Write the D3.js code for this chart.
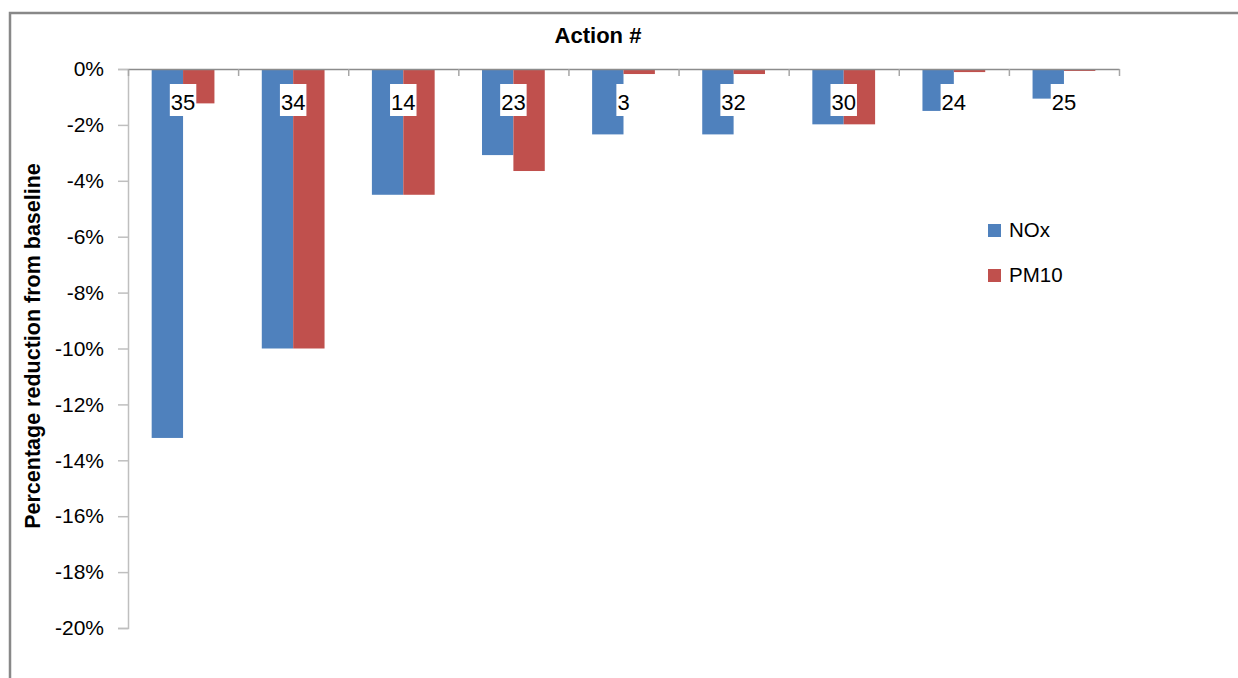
<!DOCTYPE html>
<html>
<head>
<meta charset="utf-8">
<script src="https://cdn.jsdelivr.net/npm/d3@7"></script>
<style>
  body { margin: 0; background: white; }
  text { font-family: "Liberation Sans", Arial, sans-serif; fill: #000; }
</style>
</head>
<body>
<div id="graf"></div>
<script>
// Datos
const acciones = ["35", "34", "14", "23", "3", "32", "30", "24", "25"]
const nox = [-13.2, -10.0, -4.5, -3.08, -2.34, -2.34, -1.98, -1.5, -1.06]
const pm10 = [-1.23, -10.0, -4.5, -3.65, -0.18, -0.18, -1.98, -0.11, -0.07]
const series = ["NOx", "PM10"]
const yTicks = [0, -2, -4, -6, -8, -10, -12, -14, -16, -18, -20]

const colores = { NOx: "#4F81BD", PM10: "#C0504D" }

const draw = () => {
  const anchoTotal = 1238
  const altoTotal = 678

  const margins = { top: 69, left: 128, right: 119, bottom: 50 }

  const svg = d3.select("#graf")
    .append("svg")
    .attr("width", anchoTotal)
    .attr("height", altoTotal)

  // Marco
  svg.append("rect")
    .attr("x", 10)
    .attr("y", 13)
    .attr("width", 1400)
    .attr("height", 1000)
    .attr("fill", "white")
    .attr("stroke", "#888")
    .attr("stroke-width", 2.5)

  // Escaladores
  const y = d3.scaleLinear()
    .domain([-20, 0])
    .range([628, margins.top])

  const x = d3.scaleBand()
    .domain(acciones)
    .range([margins.left, anchoTotal - margins.right])
    .paddingInner(0.43)
    .paddingOuter(0.215)

  const xSub = d3.scaleBand()
    .domain(series)
    .range([0, x.bandwidth()])

  const xTicks = d3.scaleLinear()
    .domain([0, acciones.length])
    .range([margins.left, anchoTotal - margins.right])

  // Eje Y
  const yAxis = svg.append("g")
    .attr("transform", `translate(${margins.left}, 0)`)
    .call(d3.axisLeft(y)
      .tickValues(yTicks)
      .tickSize(10)
      .tickPadding(14)
      .tickFormat(d => d + "%"))

  yAxis.select(".domain").attr("stroke", "#bfbfbf").attr("stroke-width", 1.5)
  yAxis.selectAll(".tick line").attr("stroke", "#bfbfbf").attr("stroke-width", 1.5)
  yAxis.selectAll(".tick text")
    .attr("font-size", 21)
    .attr("font-family", "Liberation Sans, Arial, sans-serif")
    .attr("fill", "#000")

  // Barras
  const filas = acciones.map((a, i) => ({ accion: a, NOx: nox[i], PM10: pm10[i] }))

  const grupos = svg.append("g")
    .selectAll("g")
    .data(filas)
    .join("g")
    .attr("transform", d => `translate(${x(d.accion)}, 0)`)

  grupos.selectAll("rect")
    .data(d => series.map(s => ({ serie: s, valor: d[s] })))
    .join("rect")
    .attr("x", d => xSub(d.serie))
    .attr("width", xSub.bandwidth())
    .attr("y", y(0))
    .attr("height", d => y(d.valor) - y(0))
    .attr("fill", d => colores[d.serie])

  // Eje X (arriba, en el cero)
  const xAxis = svg.append("g")
    .attr("transform", `translate(0, ${y(0)})`)
    .call(d3.axisBottom(xTicks)
      .ticks(acciones.length)
      .tickSize(7)
      .tickSizeOuter(0)
      .tickFormat(""))

  xAxis.select(".domain").attr("stroke", "#8c8c8c").attr("stroke-width", 1.5)
  xAxis.selectAll(".tick line").attr("stroke", "#a6a6a6").attr("stroke-width", 1.5)

  // Etiquetas de categoría con fondo blanco
  const etiquetas = svg.append("g")
    .selectAll("g")
    .data(acciones)
    .join("g")

  etiquetas.append("rect").attr("fill", "white")

  etiquetas.append("text")
    .attr("x", d => x(d) + x.bandwidth() / 2)
    .attr("y", 110)
    .attr("text-anchor", "middle")
    .attr("font-size", 22)
    .text(d => d)

  etiquetas.each(function () {
    const box = d3.select(this).select("text").node().getBBox()
    d3.select(this).select("rect")
      .attr("x", box.x - 1)
      .attr("y", 84)
      .attr("width", box.width + 2)
      .attr("height", 32)
  })

  // Título
  svg.append("text")
    .attr("x", 598)
    .attr("y", 43)
    .attr("text-anchor", "middle")
    .attr("font-size", 22)
    .attr("font-weight", "bold")
    .text("Action #")

  // Leyenda eje Y
  svg.append("text")
    .attr("transform", "translate(40, 346) rotate(-90)")
    .attr("text-anchor", "middle")
    .attr("font-size", 21.5)
    .attr("font-weight", "bold")
    .text("Percentage reduction from baseline")

  // Leyenda
  const leyenda = svg.append("g")
    .selectAll("g")
    .data(series)
    .join("g")
    .attr("transform", (d, i) => `translate(988, ${224 + i * 45})`)

  leyenda.append("rect")
    .attr("width", 13)
    .attr("height", 13)
    .attr("fill", d => colores[d])

  leyenda.append("text")
    .attr("x", 21)
    .attr("y", 13)
    .attr("font-size", 20.5)
    .text(d => d)
}

draw()
</script>
</body>
</html>
